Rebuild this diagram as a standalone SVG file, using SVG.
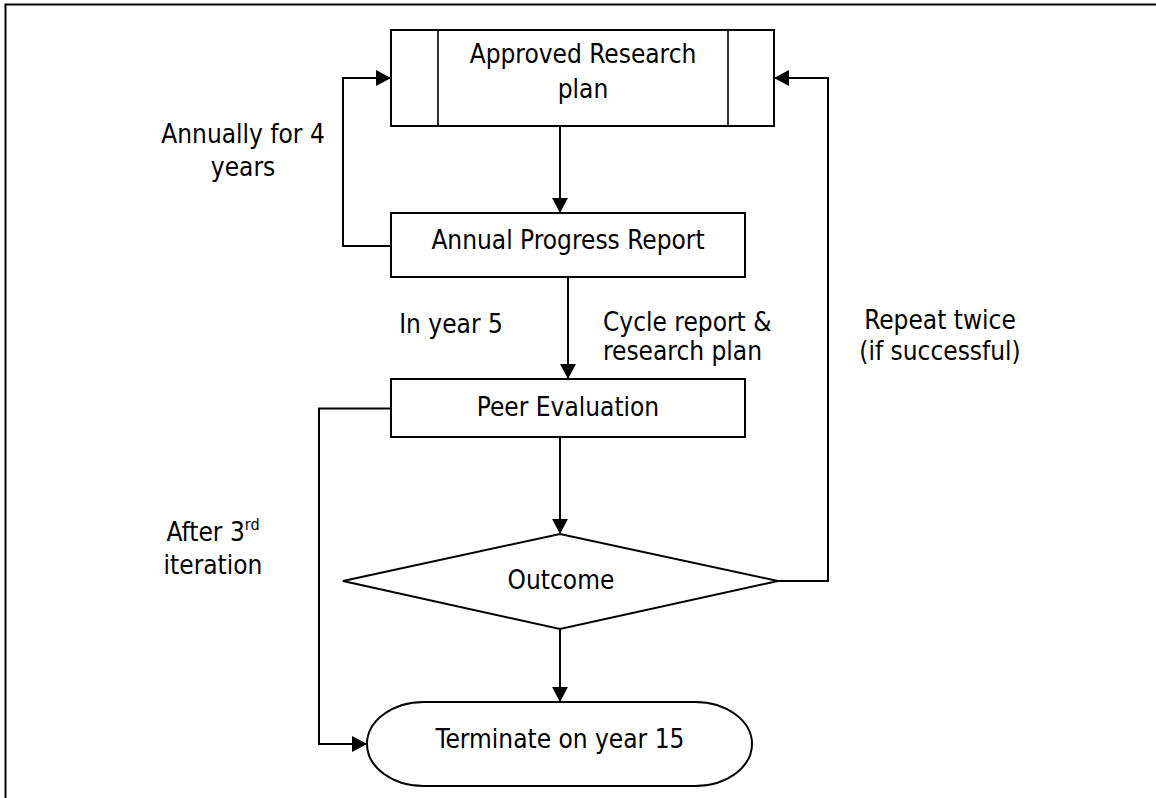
<svg xmlns="http://www.w3.org/2000/svg" width="1156" height="798" viewBox="0 0 1156 798">
  <style>
    .shape { fill: #ffffff; stroke: #000000; stroke-width: 2; }
    .inner { fill: none; stroke: #000000; stroke-width: 1.6; }
    .conn { fill: none; stroke: #000000; stroke-width: 2; marker-end: url(#arrow); }
    .line { fill: none; stroke: #000000; stroke-width: 2; }
    text { font-family: "DejaVu Sans Condensed", "Liberation Sans", sans-serif; font-size: 26px; fill: #000000; }
    .c { text-anchor: middle; }
  </style>
  <defs>
    <marker id="arrow" markerUnits="userSpaceOnUse" markerWidth="15" markerHeight="16" refX="15" refY="8" orient="auto">
      <path d="M0,0 L15,8 L0,16 Z" fill="#000000"/>
    </marker>
  </defs>
  <rect width="1156" height="798" fill="#ffffff"/>
  <rect id="frame" x="5.5" y="4.5" width="1200" height="900" fill="none" stroke="#000000" stroke-width="2"/>

  <g id="connectors">
    <line class="conn" x1="560" y1="126" x2="560" y2="213"/>
    <line class="conn" x1="568" y1="277" x2="568" y2="379"/>
    <line class="conn" x1="560" y1="437" x2="560" y2="534"/>
    <line class="conn" x1="560" y1="629" x2="560" y2="702"/>
    <polyline class="conn" points="391,246 343,246 343,78 391,78"/>
    <polyline class="conn" points="778,581 828,581 828,78 774,78"/>
    <polyline class="conn" points="391,408.5 319,408.5 319,744 367,744"/>
  </g>

  <g id="approved">
    <rect class="shape" x="391" y="30" width="383" height="96"/>
    <line class="inner" x1="438" y1="30" x2="438" y2="126"/>
    <line class="inner" x1="728" y1="30" x2="728" y2="126"/>
    <text class="c" x="583" y="63">Approved Research</text>
    <text class="c" x="583" y="98">plan</text>
  </g>

  <g id="annual">
    <rect class="shape" x="391" y="213" width="354" height="64"/>
    <text class="c" x="568" y="249">Annual Progress Report</text>
  </g>

  <g id="peer">
    <rect class="shape" x="391" y="379" width="354" height="58"/>
    <text class="c" x="568" y="416">Peer Evaluation</text>
  </g>

  <g id="outcome">
    <polygon class="shape" points="343,581 560,534 778,581 560,629"/>
    <text class="c" x="561" y="589">Outcome</text>
  </g>

  <g id="terminate">
    <rect class="shape" x="367" y="702" width="385" height="84" rx="57" ry="42"/>
    <text class="c" x="560" y="748">Terminate on year 15</text>
  </g>

  <g id="labels">
    <text class="c" x="243" y="143">Annually for 4</text>
    <text class="c" x="243" y="176">years</text>
    <text class="c" x="451" y="333">In year 5</text>
    <text x="603" y="331">Cycle report &amp;</text>
    <text x="603" y="360">research plan</text>
    <text class="c" x="940" y="329">Repeat twice</text>
    <text class="c" x="940" y="360">(if successful)</text>
    <text class="c" x="213" y="541">After 3<tspan font-size="16" dy="-11">rd</tspan></text>
    <text class="c" x="213" y="574">iteration</text>
  </g>
</svg>
